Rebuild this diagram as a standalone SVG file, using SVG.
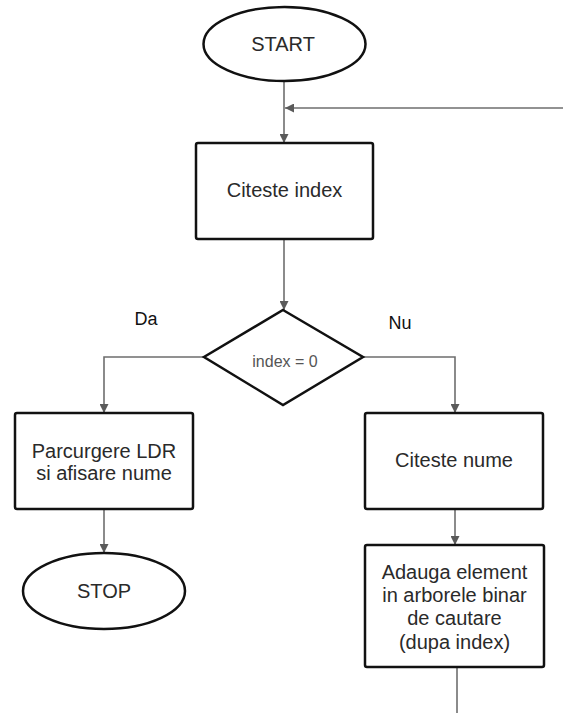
<svg xmlns="http://www.w3.org/2000/svg" width="563" height="713" viewBox="0 0 563 713">
  <style>
    .shape { fill: #ffffff; stroke: #111111; stroke-width: 2.5; }
    .wire { fill: none; stroke: #6e6e6e; stroke-width: 1.6; }
    .lbl { font-family: "Liberation Sans", Arial, sans-serif; font-size: 20px; fill: #2a2a2a; text-anchor: middle; }
    .cond { font-family: "Liberation Sans", Arial, sans-serif; font-size: 16px; fill: #555555; text-anchor: middle; }
    .branch { font-family: "Liberation Sans", Arial, sans-serif; font-size: 18px; fill: #111111; text-anchor: middle; }
  </style>
  <defs>
    <marker id="arrow" viewBox="0 0 10 10" refX="10" refY="5" markerWidth="9" markerHeight="9" markerUnits="userSpaceOnUse" orient="auto">
      <path d="M0,0 L10,5 L0,10 Z" fill="#5a5a5a"/>
    </marker>
  </defs>
  <rect width="563" height="713" fill="#ffffff"/>

  <!-- connectors -->
  <g id="connectors">
    <path class="wire" d="M284,81 V143" marker-end="url(#arrow)"/>
    <path class="wire" d="M563,108 H285" marker-end="url(#arrow)"/>
    <path class="wire" d="M284,239 V310" marker-end="url(#arrow)"/>
    <path class="wire" d="M204,357 H104 V413" marker-end="url(#arrow)"/>
    <path class="wire" d="M363,357 H455 V413" marker-end="url(#arrow)"/>
    <path class="wire" d="M104,509 V553" marker-end="url(#arrow)"/>
    <path class="wire" d="M455,509 V545" marker-end="url(#arrow)"/>
    <path class="wire" d="M457,667 V713"/>
  </g>

  <!-- nodes -->
  <g id="start">
    <ellipse class="shape" cx="284.5" cy="44" rx="81" ry="37"/>
    <text class="lbl" x="283" y="51">START</text>
  </g>
  <g id="read-index">
    <rect class="shape" x="196" y="143" width="177" height="96" rx="2"/>
    <text class="lbl" x="284.5" y="197">Citeste index</text>
  </g>
  <g id="decision">
    <polygon class="shape" points="283,310 363,357 283,405 204,357"/>
    <text class="cond" x="285" y="367">index = 0</text>
  </g>
  <g id="label-da">
    <text class="branch" x="146" y="325">Da</text>
  </g>
  <g id="label-nu">
    <text class="branch" x="400" y="329">Nu</text>
  </g>
  <g id="traverse">
    <rect class="shape" x="15" y="413" width="178" height="96" rx="2"/>
    <text class="lbl" x="104" y="458">Parcurgere LDR</text>
    <text class="lbl" x="104" y="480">si afisare nume</text>
  </g>
  <g id="stop">
    <ellipse class="shape" cx="104" cy="591" rx="81" ry="38"/>
    <text class="lbl" x="104" y="598">STOP</text>
  </g>
  <g id="read-name">
    <rect class="shape" x="365" y="413" width="178" height="96" rx="2"/>
    <text class="lbl" x="454" y="467">Citeste nume</text>
  </g>
  <g id="insert">
    <rect class="shape" x="365" y="545" width="179" height="122" rx="2"/>
    <text class="lbl" x="454.5" y="579">Adauga element</text>
    <text class="lbl" x="454.5" y="602">in arborele binar</text>
    <text class="lbl" x="454.5" y="625">de cautare</text>
    <text class="lbl" x="454.5" y="649">(dupa index)</text>
  </g>
</svg>
